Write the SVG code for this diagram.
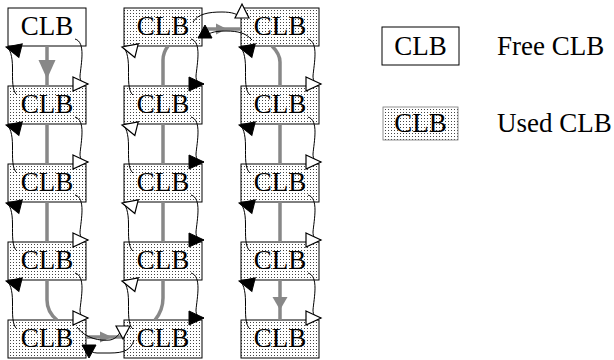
<svg xmlns="http://www.w3.org/2000/svg" width="614" height="360" viewBox="0 0 614 360">
<defs>
<pattern id="dots" width="3" height="3" patternUnits="userSpaceOnUse">
<rect x="0" y="0" width="3" height="3" fill="#ffffff"/>
<rect x="1" y="1" width="1" height="1" fill="#444"/>
</pattern>
<marker id="open" markerUnits="userSpaceOnUse" viewBox="0 0 18 18" markerWidth="18" markerHeight="18" refX="16" refY="8" orient="auto" overflow="visible">
<path d="M1,1 L16,8 L1,15 z" fill="#fff" stroke="#000" stroke-width="1.2"/>
</marker>
<marker id="solid" markerUnits="userSpaceOnUse" viewBox="0 0 18 18" markerWidth="18" markerHeight="18" refX="16" refY="8" orient="auto" overflow="visible">
<path d="M1,1 L16,8 L1,15 z" fill="#000" stroke="#000" stroke-width="1"/>
</marker>
</defs>
<style>
.free{fill:#fff;stroke:#000;stroke-width:1}
.used{fill:url(#dots);stroke:#000;stroke-width:1}
.lused{fill:url(#dots);stroke:#777;stroke-width:0.8}
.t{font-family:"Liberation Serif","Times New Roman",serif;font-size:27px;fill:#000}
.c{text-anchor:middle}
.route{fill:none;stroke:#888;stroke-width:3.5}
.rhead{fill:#888;stroke:none}
.lk{fill:none;stroke:#000;stroke-width:1}
.lko{marker-end:url(#open)}
.lks{marker-end:url(#solid)}
.ho{fill:#fff;stroke:#000;stroke-width:1.2}
.hs{fill:#000;stroke:#000;stroke-width:1}
</style>

<g id="nodes">
<g id="c1r1"><rect class="free" x="8" y="8" width="78" height="38"/><text class="t c" x="47" y="35">CLB</text></g>
<g id="c1r2"><rect class="used" x="8" y="86" width="78" height="38"/><text class="t c" x="47" y="113">CLB</text></g>
<g id="c1r3"><rect class="used" x="8" y="164" width="78" height="38"/><text class="t c" x="47" y="191">CLB</text></g>
<g id="c1r4"><rect class="used" x="8" y="242" width="78" height="38"/><text class="t c" x="47" y="269">CLB</text></g>
<g id="c1r5"><rect class="used" x="8" y="320" width="78" height="38"/><text class="t c" x="47" y="347">CLB</text></g>

<g id="c2r1"><rect class="used" x="124" y="8" width="78" height="38"/><text class="t c" x="163" y="35">CLB</text></g>
<g id="c2r2"><rect class="used" x="124" y="86" width="78" height="38"/><text class="t c" x="163" y="113">CLB</text></g>
<g id="c2r3"><rect class="used" x="124" y="164" width="78" height="38"/><text class="t c" x="163" y="191">CLB</text></g>
<g id="c2r4"><rect class="used" x="124" y="242" width="78" height="38"/><text class="t c" x="163" y="269">CLB</text></g>
<g id="c2r5"><rect class="used" x="124" y="320" width="78" height="38"/><text class="t c" x="163" y="347">CLB</text></g>

<g id="c3r1"><rect class="used" x="241" y="8" width="78" height="38"/><text class="t c" x="280" y="35">CLB</text></g>
<g id="c3r2"><rect class="used" x="241" y="86" width="78" height="38"/><text class="t c" x="280" y="113">CLB</text></g>
<g id="c3r3"><rect class="used" x="241" y="164" width="78" height="38"/><text class="t c" x="280" y="191">CLB</text></g>
<g id="c3r4"><rect class="used" x="241" y="242" width="78" height="38"/><text class="t c" x="280" y="269">CLB</text></g>
<g id="c3r5"><rect class="used" x="241" y="320" width="78" height="38"/><text class="t c" x="280" y="347">CLB</text></g>
</g>

<g id="legend">
<g id="legend-free"><rect class="free" x="382" y="27" width="77" height="38"/><text class="t c" x="420.5" y="55">CLB</text><text class="t" x="497" y="55">Free CLB</text></g>
<g id="legend-used"><rect class="lused" x="383" y="107" width="75" height="33"/><text class="t c" x="420.5" y="132">CLB</text><text class="t" x="497" y="132">Used CLB</text></g>
</g>

<g id="connectors">
<path class="route" d="M47 46 V86 M47 124 V164 M47 202 V242 M47 280 V300 C47 310 52 316 57 320"/>
<polygon class="rhead" points="38.5,60 55.5,60 47,79"/>
<path class="route" d="M86 337 H124"/>
<polygon class="rhead" points="100,331.5 100,342.5 112,337"/>
<path class="route" d="M155 320 C160 314 163 308 163 298 V280 M163 242 V202 M163 164 V124 M163 86 V60 C163 54 165 50 168 46"/>
<path class="route" d="M202 29 H241"/>
<polygon class="rhead" points="216,23.5 216,34.5 227,29"/>
<path class="route" d="M272 46 C276 50 280 55 280 62 V86 M280 124 V164 M280 202 V242 M280 280 V320"/>
<polygon class="rhead" points="272.5,297 287.5,297 280,310"/>

<path class="lk lko" d="M75 39 C86 42 81 64 80 76 C80 81 82 84 88 84"/>
<path class="lk lko" d="M75 117 C86 120 81 142 80 154 C80 159 82 162 88 162"/>
<path class="lk lko" d="M75 195 C86 198 81 220 80 232 C80 237 82 240 88 240"/>
<path class="lk lko" d="M75 273 C86 276 81 298 80 310 C80 315 82 318 88 318"/>
<path class="lk lks" d="M17 95 C12 91 12.5 80 12.5 68 C12.5 56 10 48 6 47"/>
<path class="lk lks" d="M17 173 C12 169 12.5 158 12.5 146 C12.5 134 10 126 6 125"/>
<path class="lk lks" d="M17 251 C12 247 12.5 236 12.5 224 C12.5 212 10 204 6 203"/>
<path class="lk lks" d="M17 329 C12 325 12.5 314 12.5 302 C12.5 290 10 282 6 281"/>

<path class="lk lks" d="M191 39 C202 42 197 64 196 76 C196 81 198 84 204 84"/>
<path class="lk lks" d="M191 117 C202 120 197 142 196 154 C196 159 198 162 204 162"/>
<path class="lk lks" d="M191 195 C202 198 197 220 196 232 C196 237 198 240 204 240"/>
<path class="lk lks" d="M191 273 C202 276 197 298 196 310 C196 315 198 318 204 318"/>
<path class="lk lko" d="M133 95 C128 91 128.5 80 128.5 68 C128.5 56 126 48 122 47"/>
<path class="lk lko" d="M133 173 C128 169 128.5 158 128.5 146 C128.5 134 126 126 122 125"/>
<path class="lk lko" d="M133 251 C128 247 128.5 236 128.5 224 C128.5 212 126 204 122 203"/>
<path class="lk lko" d="M133 329 C128 325 128.5 314 128.5 302 C128.5 290 126 282 122 281"/>

<path class="lk lko" d="M308 39 C319 42 314 64 313 76 C313 81 315 84 321 84"/>
<path class="lk lko" d="M308 117 C319 120 314 142 313 154 C313 159 315 162 321 162"/>
<path class="lk lko" d="M308 195 C319 198 314 220 313 232 C313 237 315 240 321 240"/>
<path class="lk lko" d="M308 273 C319 276 314 298 313 310 C313 315 315 318 321 318"/>
<path class="lk lks" d="M250 95 C245 91 245.5 80 245.5 68 C245.5 56 243 48 239 47"/>
<path class="lk lks" d="M250 173 C245 169 245.5 158 245.5 146 C245.5 134 243 126 239 125"/>
<path class="lk lks" d="M250 251 C245 247 245.5 236 245.5 224 C245.5 212 243 204 239 203"/>
<path class="lk lks" d="M250 329 C245 325 245.5 314 245.5 302 C245.5 290 243 282 239 281"/>

<path class="lk" d="M77 327 C86 339 100 341 110 340 C116 339 120 334 122 328"/>
<polygon class="ho" points="116,326 130,326 123,339"/>
<path class="lk" d="M134 340 C131 350 124 353 110 353 L97 353 C93 353 90 351 89 348"/>
<polygon class="hs" points="82,345 96,345 89,358"/>

<path class="lk" d="M193 22 C198 14 208 12 222 12 C232 12 238 14 241 18"/>
<polygon class="ho" points="235,18 249,18 242,4"/>
<path class="lk" d="M252 40 C246 33 238 31 226 31 C214 31 207 33 205 38"/>
<polygon class="hs" points="198,38 212,38 205,25"/>
</g>
</svg>
